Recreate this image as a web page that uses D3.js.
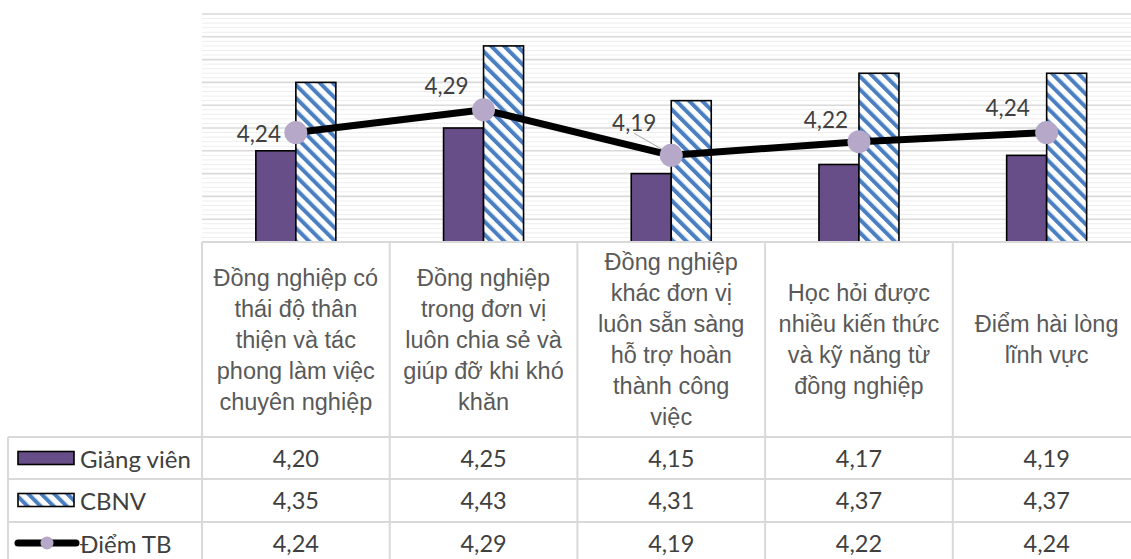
<!DOCTYPE html>
<html>
<head>
<meta charset="utf-8">
<script src="https://cdn.jsdelivr.net/npm/d3@7"></script>
<style>
  body { margin: 0; background: #fff; }
  svg { display: block; }
</style>
</head>
<body>
<svg id="chart" width="1131" height="559"></svg>
<script>
// data
const categories = [
  "Đồng nghiệp có thái độ thân thiện và tác phong làm việc chuyên nghiệp",
  "Đồng nghiệp trong đơn vị luôn chia sẻ và giúp đỡ khi khó khăn",
  "Đồng nghiệp khác đơn vị luôn sẵn sàng hỗ trợ hoàn thành công việc",
  "Học hỏi được nhiều kiến thức và kỹ năng từ đồng nghiệp",
  "Điểm hài lòng lĩnh vực"
];
const categoryLines = [
  ["Đồng nghiệp có", "thái độ thân", "thiện và tác", "phong làm việc", "chuyên nghiệp"],
  ["Đồng nghiệp", "trong đơn vị", "luôn chia sẻ và", "giúp đỡ khi khó", "khăn"],
  ["Đồng nghiệp", "khác đơn vị", "luôn sẵn sàng", "hỗ trợ hoàn", "thành công", "việc"],
  ["Học hỏi được", "nhiều kiến thức", "và kỹ năng từ", "đồng nghiệp"],
  ["Điểm hài lòng", "lĩnh vực"]
];
const seriesNames = ["Giảng viên", "CBNV", "Điểm TB"];
const giangVien = [4.20, 4.25, 4.15, 4.17, 4.19];
const cbnv = [4.35, 4.43, 4.31, 4.37, 4.37];
const diemTB = [4.24, 4.29, 4.19, 4.22, 4.24];
const yMin = 4.0, yMax = 4.5;

// helpers
const fmt = v => d3.format(".2f")(v).replace(".", ",");

const svg = d3.select("#chart");

// layout
const plotLeft = 202, plotRight = 1131, bandRight = 1140.5;
const plotTop = 14, plotBottom = 242;
const tableLeft = 8;
const rowLines = [437, 479, 522];

const x = d3.scaleBand().domain(categories).range([plotLeft, bandRight]);
const y = d3.scaleLinear().domain([yMin, yMax]).range([plotBottom, plotTop]);
const barW = 40;
const x1 = d3.scaleBand().domain(["gv", "cb"])
  .range([x.bandwidth() / 2 - barW, x.bandwidth() / 2 + barW]);

// pattern for CBNV
const defs = svg.append("defs");
const pat = defs.append("pattern")
  .attr("id", "stripes")
  .attr("patternUnits", "userSpaceOnUse")
  .attr("width", 9.2).attr("height", 9.2)
  .attr("patternTransform", "rotate(-45)");
pat.append("rect").attr("width", 9.2).attr("height", 9.2).attr("fill", "#fff");
pat.append("rect").attr("x", 0).attr("width", 4).attr("height", 9.2).attr("fill", "#4a7fc1");

// gridlines
const minorTicks = d3.range(0, 51).map(i => yMin + i * 0.01);
svg.append("g").selectAll("line")
  .data(minorTicks.filter((d, i) => i % 5 !== 0))
  .join("line")
  .attr("x1", plotLeft).attr("x2", plotRight)
  .attr("y1", d => y(d)).attr("y2", d => y(d))
  .attr("stroke", "#eeeeee").attr("stroke-width", 1);
svg.append("g").selectAll("line")
  .data(minorTicks.filter((d, i) => i % 5 === 0 && i !== 0))
  .join("line")
  .attr("x1", plotLeft).attr("x2", plotRight)
  .attr("y1", d => y(d)).attr("y2", d => y(d))
  .attr("stroke", "#d9d9d9").attr("stroke-width", 1.6);

// bars
const bars = svg.append("g");
bars.selectAll("rect.gv")
  .data(giangVien)
  .join("rect")
  .attr("class", "gv")
  .attr("x", (d, i) => x(categories[i]) + x1("gv"))
  .attr("y", d => y(d))
  .attr("width", x1.bandwidth())
  .attr("height", d => y(yMin) - y(d))
  .attr("fill", "#684e88")
  .attr("stroke", "#000").attr("stroke-width", 1.6);
bars.selectAll("rect.cb")
  .data(cbnv)
  .join("rect")
  .attr("class", "cb")
  .attr("x", (d, i) => x(categories[i]) + x1("cb"))
  .attr("y", d => y(d))
  .attr("width", x1.bandwidth())
  .attr("height", d => y(yMin) - y(d))
  .attr("fill", "url(#stripes)")
  .attr("stroke", "#000").attr("stroke-width", 1.6);

// average line
const cx = (d, i) => x(categories[i]) + x.bandwidth() / 2;
const line = d3.line().x(cx).y(d => y(d));
svg.append("path")
  .datum(diemTB)
  .attr("d", line)
  .attr("fill", "none")
  .attr("stroke", "#000")
  .attr("stroke-width", 7)
  .attr("stroke-linejoin", "round");

// label offsets (manually placed in the original)
const labelOffsets = [[-37, 1], [-37, -24], [-37, -33], [-33, -22], [-39, -25]];

// leader for the third label
svg.append("line")
  .attr("x1", cx(diemTB[2], 2) - 37).attr("y1", y(diemTB[2]) - 22)
  .attr("x2", cx(diemTB[2], 2) - 2).attr("y2", y(diemTB[2]) - 2)
  .attr("stroke", "#a6a6a6").attr("stroke-width", 1);

svg.append("g").selectAll("circle")
  .data(diemTB)
  .join("circle")
  .attr("cx", cx)
  .attr("cy", d => y(d))
  .attr("r", 11.5)
  .attr("fill", "#b5a8c8");

svg.append("g").selectAll("text")
  .data(diemTB)
  .join("text")
  .attr("x", (d, i) => cx(d, i) + labelOffsets[i][0])
  .attr("y", (d, i) => y(d) + labelOffsets[i][1])
  .attr("text-anchor", "middle")
  .attr("dominant-baseline", "central")
  .attr("font-family", "Lato, 'Open Sans', sans-serif")
  .attr("font-size", 22.5)
  .attr("fill", "#404040")
  .text(fmt);

// data table grid
const grid = svg.append("g").attr("stroke", "#d9d9d9").attr("stroke-width", 2);
grid.append("line").attr("x1", plotLeft).attr("x2", plotRight)
  .attr("y1", plotBottom).attr("y2", plotBottom);
rowLines.forEach(ry => {
  grid.append("line").attr("x1", tableLeft).attr("x2", plotRight)
    .attr("y1", ry).attr("y2", ry);
});
grid.append("line").attr("x1", tableLeft).attr("x2", tableLeft)
  .attr("y1", rowLines[0]).attr("y2", 559);
categories.forEach(c => {
  grid.append("line").attr("x1", x(c)).attr("x2", x(c))
    .attr("y1", plotBottom).attr("y2", 559);
});

// category labels
const lineH = 31;
const headerMid = (plotBottom + rowLines[0]) / 2;
const catG = svg.append("g")
  .attr("font-family", "'Liberation Sans', Arial, sans-serif")
  .attr("font-size", 23.5)
  .attr("fill", "#595959")
  .attr("text-anchor", "middle");
categoryLines.forEach((lines, i) => {
  const t = catG.append("text")
    .attr("dominant-baseline", "central");
  lines.forEach((l, j) => {
    t.append("tspan")
      .attr("x", x(categories[i]) + x.bandwidth() / 2)
      .attr("y", headerMid - (lines.length - 1) * lineH / 2 + j * lineH)
      .text(l);
  });
});

// table values
const rows = [giangVien, cbnv, diemTB];
const rowMid = [458, 500, 543];
const valG = svg.append("g")
  .attr("font-family", "Lato, 'Open Sans', sans-serif")
  .attr("font-size", 23.5)
  .attr("fill", "#404040")
  .attr("text-anchor", "middle")
  .attr("dominant-baseline", "central");
rows.forEach((vals, r) => {
  valG.selectAll(null)
    .data(vals)
    .join("text")
    .attr("x", (d, i) => x(categories[i]) + x.bandwidth() / 2)
    .attr("y", rowMid[r])
    .text(fmt);
});

// legend keys in the row headers
const keyG = svg.append("g");
keyG.append("rect").attr("x", 18).attr("y", rowMid[0] - 6.5).attr("width", 56).attr("height", 13)
  .attr("fill", "#684e88").attr("stroke", "#000").attr("stroke-width", 1.6);
keyG.append("rect").attr("x", 18).attr("y", rowMid[1] - 6.5).attr("width", 56).attr("height", 13)
  .attr("fill", "url(#stripes)").attr("stroke", "#000").attr("stroke-width", 1.6);
keyG.append("line").attr("x1", 18).attr("x2", 76).attr("y1", rowMid[2]).attr("y2", rowMid[2])
  .attr("stroke", "#000").attr("stroke-width", 7).attr("stroke-linecap", "round");
keyG.append("circle").attr("cx", 47).attr("cy", rowMid[2]).attr("r", 6.5).attr("fill", "#b5a8c8");

svg.append("g")
  .attr("font-family", "Lato, 'Open Sans', sans-serif")
  .attr("font-size", 24)
  .attr("fill", "#404040")
  .attr("dominant-baseline", "central")
  .selectAll("text")
  .data(seriesNames)
  .join("text")
  .attr("x", 80)
  .attr("y", (d, i) => rowMid[i])
  .text(d => d);
</script>
</body>
</html>
